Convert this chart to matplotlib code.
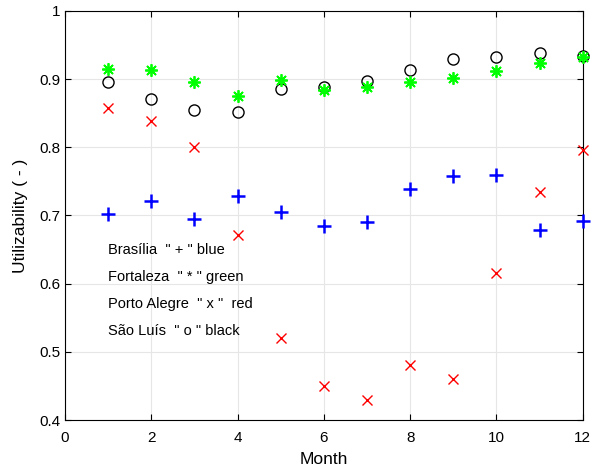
import numpy as np
import matplotlib.pyplot as plt

plt.rcParams['font.family'] = ['Liberation Sans', 'DejaVu Sans']

months = np.arange(1, 13)
brasilia = [0.702, 0.721, 0.695, 0.728, 0.705, 0.684, 0.690, 0.739, 0.758, 0.760, 0.678, 0.692]
fortaleza = [0.915, 0.913, 0.896, 0.875, 0.898, 0.884, 0.889, 0.896, 0.902, 0.912, 0.923, 0.932]
porto_alegre = [0.857, 0.838, 0.800, 0.671, 0.520, 0.450, 0.429, 0.481, 0.460, 0.616, 0.735, 0.796]
sao_luis = [0.896, 0.871, 0.854, 0.852, 0.885, 0.889, 0.897, 0.913, 0.929, 0.933, 0.938, 0.934]

notes = ['Brasília  " + " blue', 'Fortaleza  " * " green',
         'Porto Alegre  " x "  red', 'São Luís  " o " black']
note_y = [0.65, 0.61, 0.57, 0.53]

fig = plt.figure(figsize=(5.91, 4.71), dpi=100)
ax = fig.add_axes([0.110, 0.108, 0.876, 0.869])

ax.plot(months, brasilia, '+', color='blue', ms=10, mew=1.8, clip_on=False, zorder=3)
ax.plot(months, sao_luis, 'o', mfc='none', mec='black', ms=8, mew=1.0, clip_on=False, zorder=3)
ax.plot(months, fortaleza, marker=(8, 2, 0), ls='none', color='#00ff00', ms=9, mew=1.3,
        clip_on=False, zorder=3)
ax.plot(months, porto_alegre, 'x', color='red', ms=7, mew=1.0, clip_on=False, zorder=3)

for t, y in zip(notes, note_y):
    ax.text(1.0, y, t, fontsize=10.5, va='center', ha='left')

ax.set_xlim(0, 12)
ax.set_ylim(0.4, 1.0)
ax.set_xticks(np.arange(0, 13, 2))
ax.set_yticks(np.arange(0.4, 1.01, 0.1))
ax.set_yticklabels(['0.4', '0.5', '0.6', '0.7', '0.8', '0.9', '1'])
ax.tick_params(direction='in', top=True, right=True, labelsize=11, length=4)
ax.tick_params(axis='x', pad=8)
ax.grid(True, color='#e6e6e6', lw=0.8)
ax.set_axisbelow(True)
ax.set_xlabel('Month', fontsize=12.5, labelpad=5)
ax.set_ylabel('Utilizability ( - )', fontsize=12.5, labelpad=8)

fig.savefig('out.png', dpi=100)
